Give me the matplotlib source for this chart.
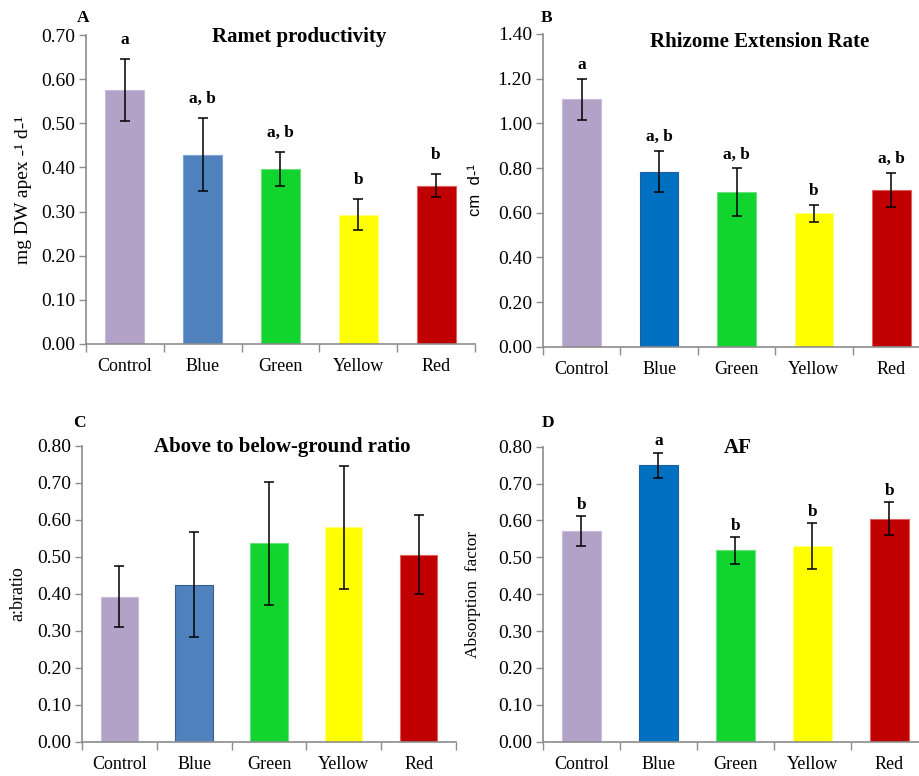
import numpy as np
import matplotlib.pyplot as plt

plt.rcParams['font.family'] = ['Liberation Serif', 'DejaVu Serif']

# data
groups = ["Control", "Blue", "Green", "Yellow", "Red"]

ramet = [0.575, 0.429, 0.396, 0.293, 0.358]
ramet_err = [0.070, 0.082, 0.038, 0.035, 0.026]
ramet_letters = ["a", "a, b", "a, b", "b", "b"]

rhizome = [1.108, 0.784, 0.691, 0.597, 0.703]
rhizome_err = [0.091, 0.093, 0.107, 0.037, 0.076]
rhizome_letters = ["a", "a, b", "a, b", "b", "a, b"]

abratio = [0.392, 0.425, 0.537, 0.580, 0.506]
abratio_err = [0.083, 0.143, 0.166, 0.167, 0.106]

af = [0.571, 0.750, 0.519, 0.530, 0.605]
af_err = [0.040, 0.034, 0.037, 0.062, 0.045]
af_letters = ["b", "a", "b", "b", "b"]

colors_1 = ["#B3A2C7", "#4F81BD", "#11D42F", "#FFFF00", "#C00000"]
colors_2 = ["#B3A2C7", "#0070C0", "#11D42F", "#FFFF00", "#C00000"]

W, H = 920, 776
fig = plt.figure(figsize=(9.2, 7.76), dpi=100)

def px(l, r, b, t):
    return [l / W, 1 - b / H, (r - l) / W, (b - t) / H]

spine_col = "#8C8C8C"

def panel(rect, vals, errs, colors, edges, ymax, step, ylabel, label_x,
          title, title_xy, letters=None, pad=10, ylabel_font=None, ylabel_size=12):
    ax = fig.add_axes(rect)
    x = np.arange(len(groups))
    ax.bar(x, vals, width=0.5, color=colors, edgecolor=edges, linewidth=0.8, zorder=2)
    ax.errorbar(x, vals, yerr=errs, fmt='none', ecolor='black', elinewidth=1.1,
                capsize=3.6, capthick=1.1, zorder=3)
    ax.set_xlim(-0.5, 4.5)
    ax.set_ylim(0, ymax)
    ticks = np.arange(0, ymax + step / 2, step)
    ax.set_yticks(ticks)
    ax.set_yticklabels(['{:.2f}'.format(t) for t in ticks], fontsize=14)
    ax.set_xticks(x)
    ax.set_xticklabels(groups, fontsize=13)
    ax.set_xticks(np.arange(-0.5, 5, 1), minor=True)
    ax.tick_params(axis='x', which='major', length=0, pad=10)
    ax.tick_params(axis='x', which='minor', length=6, color=spine_col, width=1)
    ax.tick_params(axis='y', length=5, color=spine_col, width=1, pad=3)
    for s in ['top', 'right']:
        ax.spines[s].set_visible(False)
    for s in ['left', 'bottom']:
        ax.spines[s].set_color(spine_col)
        ax.spines[s].set_linewidth(1.2)
    ax.spines['bottom'].set_clip_on(False)
    if ylabel_font:
        ax.set_ylabel(ylabel, fontsize=ylabel_size, family=ylabel_font)
    else:
        ax.set_ylabel(ylabel, fontsize=ylabel_size)
    ax.yaxis.set_label_coords(label_x, 0.5)
    ax.text(title_xy[0], title_xy[1], title, transform=ax.transAxes,
            ha='center', va='center', fontsize=15, fontweight='bold')
    if letters:
        for xi, v, e, t in zip(x, vals, errs, letters):
            ax.annotate(t, (xi, v + e), xytext=(0, pad), textcoords='offset points',
                        ha='center', va='center', fontsize=12.5, fontweight='bold')
    return ax

light = ["#C9BCDA", "#7FA3D3", "#6BE07F", "#FFFF80", "#E06060"]

panel(px(86, 475, 344, 35), ramet, ramet_err, colors_1, light, 0.70, 0.10,
      "mg DW apex -¹ d-¹", -0.14, "Ramet productivity", (0.548, 0.994),
      ramet_letters, pad=14, ylabel_size=14)
panel(px(543, 930, 346.7, 34), rhizome, rhizome_err, colors_2,
      ["#C9BCDA", "#1F5FA0", "#6BE07F", "#FFFF80", "#E06060"], 1.40, 0.20,
      "cm  d-¹", -0.155, "Rhizome Extension Rate", (0.560, 0.974),
      rhizome_letters, pad=10, ylabel_font=['Liberation Sans', 'DejaVu Sans'])
panel(px(82, 456, 741.7, 446), abratio, abratio_err, colors_1,
      ["#C9BCDA", "#385D8A", "#6BE07F", "#FFFF80", "#E06060"], 0.80, 0.10,
      "a:bratio", -0.15, "Above to below-ground ratio", (0.536, 0.997),
      ylabel_size=13)
panel(px(543, 928, 741.7, 446.7), af, af_err, colors_2,
      ["#C9BCDA", "#1F5FA0", "#6BE07F", "#FFFF80", "#E06060"], 0.80, 0.10,
      "Absorption  factor", -0.16, "AF", (0.506, 0.996),
      af_letters, pad=8, ylabel_size=12.5)

for t, xx, yy in [("A", 83, 18), ("B", 547, 18), ("C", 79, 423), ("D", 548, 423)]:
    fig.text(xx / W, 1 - yy / H, t, ha='center', va='center',
             fontsize=12.5, fontweight='bold')

fig.savefig("out.png", dpi=100)
